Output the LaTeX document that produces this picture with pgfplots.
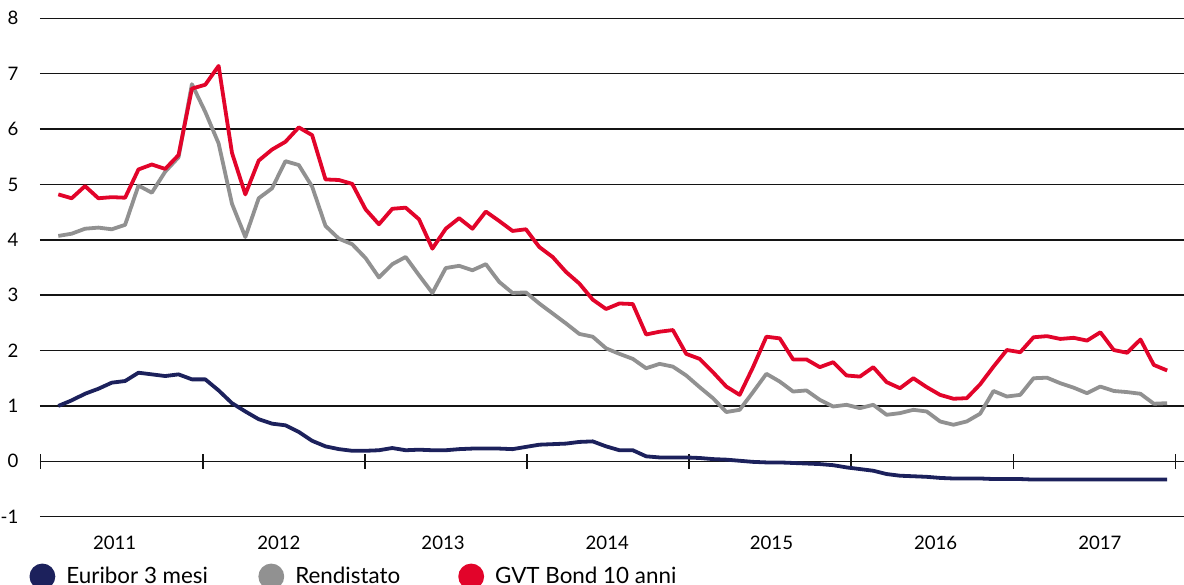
\documentclass[border=0pt]{standalone}
\usepackage{fontspec}
\setmainfont{Lato}
\usepackage{pgfplots}
\usepackage{pgfplotstable}
\pgfplotsset{compat=1.18}
\definecolor{navy}{RGB}{28,33,92}
\definecolor{gry}{RGB}{145,145,145}
\definecolor{crim}{RGB}{226,4,42}
\definecolor{gridc}{RGB}{20,20,20}
\pgfplotstableread{
x eur ren gvt
0 1.00 4.07 4.82
1 1.10 4.11 4.75
2 1.22 4.20 4.97
3 1.31 4.22 4.75
4 1.42 4.19 4.77
5 1.45 4.27 4.76
6 1.60 4.98 5.27
7 1.57 4.85 5.36
8 1.54 5.23 5.28
9 1.57 5.49 5.53
10 1.48 6.81 6.73
11 1.48 6.31 6.80
12 1.28 5.74 7.14
13 1.05 4.65 5.57
14 0.90 4.05 4.82
15 0.76 4.75 5.43
16 0.68 4.93 5.63
17 0.65 5.42 5.77
18 0.53 5.35 6.03
19 0.37 4.96 5.89
20 0.27 4.25 5.09
21 0.22 4.02 5.08
22 0.19 3.92 5.01
23 0.19 3.67 4.55
24 0.20 3.32 4.28
25 0.24 3.56 4.56
26 0.20 3.69 4.58
27 0.21 3.36 4.37
28 0.20 3.04 3.84
29 0.20 3.49 4.20
30 0.22 3.53 4.39
31 0.23 3.45 4.20
32 0.23 3.56 4.51
33 0.23 3.24 4.34
34 0.22 3.04 4.16
35 0.26 3.05 4.19
36 0.30 2.85 3.87
37 0.31 2.67 3.69
38 0.32 2.49 3.42
39 0.35 2.30 3.21
40 0.36 2.25 2.92
41 0.27 2.04 2.75
42 0.20 1.94 2.85
43 0.20 1.85 2.84
44 0.09 1.68 2.29
45 0.07 1.76 2.34
46 0.07 1.71 2.37
47 0.07 1.55 1.94
48 0.06 1.34 1.85
49 0.04 1.14 1.61
50 0.03 0.89 1.35
51 0.01 0.93 1.20
52 -0.01 1.25 1.70
53 -0.02 1.58 2.25
54 -0.02 1.44 2.22
55 -0.03 1.26 1.84
56 -0.04 1.28 1.84
57 -0.05 1.11 1.70
58 -0.07 0.99 1.79
59 -0.11 1.02 1.55
60 -0.14 0.96 1.53
61 -0.17 1.02 1.70
62 -0.23 0.84 1.43
63 -0.26 0.87 1.32
64 -0.27 0.93 1.50
65 -0.28 0.90 1.34
66 -0.30 0.72 1.20
67 -0.31 0.66 1.13
68 -0.31 0.72 1.14
69 -0.31 0.86 1.39
70 -0.32 1.27 1.71
71 -0.32 1.17 2.01
72 -0.32 1.20 1.97
73 -0.33 1.50 2.24
74 -0.33 1.51 2.26
75 -0.33 1.41 2.21
76 -0.33 1.33 2.23
77 -0.33 1.23 2.18
78 -0.33 1.35 2.33
79 -0.33 1.27 2.01
80 -0.33 1.25 1.96
81 -0.33 1.22 2.20
82 -0.33 1.04 1.74
83 -0.33 1.05 1.64
}\datatable
\begin{document}
\begin{tikzpicture}
\begin{axis}[
  name=ax,
  scale only axis, width=572pt, height=249.2pt,
  xmin=-1.37, xmax=84.26, ymin=-1, ymax=8,
  axis x line=middle, axis y line=left,
  x axis line style={-, gridc, line width=0.75pt},
  y axis line style={draw=none},
  xtick={4.22,16.51,28.80,41.09,53.38,65.67,77.96},
  xticklabels={2011,2012,2013,2014,2015,2016,2017},
  minor xtick={-1.317,10.816,22.95,35.08,47.21,59.35,71.48,83.61},
  major x tick style={draw=none},
  minor x tick style={gridc, line width=0.75pt},
  minor tick length=7.5pt,
  tick align=center,
  ytick={-1,0,1,2,3,4,5,6,7,8},
  yticklabels={-1,0,1,2,3,4,5,6,7,8},
  major y tick style={draw=none},
  ymajorgrids,
  grid style={gridc, line width=0.75pt},
  ticklabel style={font=\fontsize{9.3}{11}\selectfont, text=black},
  xticklabel style={anchor=center, inner sep=0pt, yshift=-38.5pt},
  yticklabel style={anchor=east, inner sep=0pt, xshift=-8.5pt},
  clip=false,
  legend columns=3,
  legend cell align=left,
  legend style={at={(axis description cs:-0.00918,-0.12)}, anchor=west,
    draw=none, fill=none, inner sep=0pt, outer sep=0pt,
    font=\fontsize{11.2}{13}\selectfont, column sep=0pt,
    nodes={inner sep=0pt}},
  legend image code/.code={\fill[#1] (5.5pt,0) circle (5.5pt); \path[draw=none,fill=none] (0,-1pt) rectangle (17.5pt,1pt);},
]
\addplot[navy, line width=1.9pt, line join=round] table[x=x, y=eur] {\datatable};
\addlegendentry{\makebox[96pt][l]{Euribor 3 mesi}}
\addplot[gry, line width=1.9pt, line join=round] table[x=x, y=ren] {\datatable};
\addlegendentry{\makebox[81.5pt][l]{Rendistato}}
\addplot[crim, line width=1.9pt, line join=round] table[x=x, y=gvt] {\datatable};
\addlegendentry{GVT Bond 10 anni}
\end{axis}
\pgfresetboundingbox
\path[use as bounding box] ([xshift=-20pt,yshift=-34.15pt]ax.south west) rectangle ([yshift=9.15pt]ax.north east);
\end{tikzpicture}
\end{document}
